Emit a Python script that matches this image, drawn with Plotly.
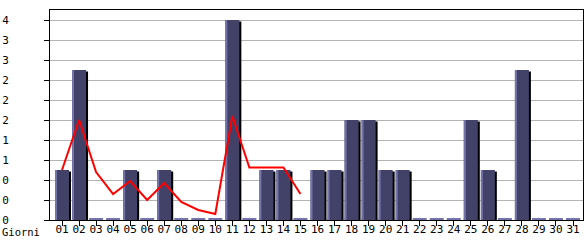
import plotly.graph_objects as go

days = [f"{d:02d}" for d in range(1, 32)]
visits = [1, 3, 0, 0, 1, 0, 1, 0, 0, 0, 4, 0, 1, 1, 0, 1, 1, 2, 2, 1, 1, 0, 0, 0, 2, 1, 0, 3, 0, 0, 0]
trend = [1.0, 2.0, 0.96, 0.52, 0.78, 0.4, 0.74, 0.36, 0.2, 0.12, 2.08, 1.05, 1.05, 1.05, 0.52]
ytick_vals = [0, 0.4, 0.8, 1.2, 1.6, 2.0, 2.4, 2.8, 3.2, 3.6, 4.0]
ytick_text = ["0", "0", "0", "1", "1", "2", "2", "2", "3", "3", "4"]
x_label = "Giorni"

FILL = "#424268"
HIGHLIGHT = "#7474ac"
SHADOW = "#000000"
PX = 1 / 17.033  # one pixel in x data units

xs = list(range(len(days)))
n = len(days)

fig = go.Figure()

# zero-value base marker
fig.add_trace(go.Bar(x=xs, y=[0.035] * n, width=[14 * PX] * n, offset=[-7 * PX] * n,
                     marker=dict(color=HIGHLIGHT, line=dict(width=0)), hoverinfo="skip"))
# shadow
fig.add_trace(go.Bar(x=xs, y=[max(v - 0.03, 0) for v in visits], width=[14 * PX] * n, offset=[-5 * PX] * n,
                     marker=dict(color=SHADOW, line=dict(width=0)), hoverinfo="skip"))
# main fill
fig.add_trace(go.Bar(x=xs, y=visits, width=[14 * PX] * n, offset=[-7 * PX] * n,
                     marker=dict(color=FILL, line=dict(width=0))))
# left highlight
fig.add_trace(go.Bar(x=xs, y=visits, width=[2 * PX] * n, offset=[-7 * PX] * n,
                     marker=dict(color=HIGHLIGHT, line=dict(width=0)), hoverinfo="skip"))
# trend line
fig.add_trace(go.Scatter(x=xs[:len(trend)], y=trend, mode="lines",
                         line=dict(color="#ff0000", width=2)))

fig.update_layout(
    width=585, height=240,
    margin=dict(l=50, r=2, t=10, b=20),
    paper_bgcolor="white", plot_bgcolor="white",
    barmode="overlay", showlegend=False,
    font=dict(family="DejaVu Sans Mono", size=11, color="black"),
    xaxis=dict(range=[-0.705, 30.587], tickvals=xs, ticktext=days, automargin=False,
               showline=True, linecolor="black", linewidth=1, mirror=True,
               ticks="outside", ticklen=5, tickcolor="black", showgrid=False,
               zeroline=False, ticklabelstandoff=-6, tickfont=dict(size=11)),
    yaxis=dict(range=[0, 4.2], tickvals=ytick_vals, ticktext=ytick_text, automargin=False,
               showline=True, linecolor="black", linewidth=1, mirror=True,
               ticks="outside", ticklen=5, tickcolor="black",
               showgrid=True, gridcolor="#b4b4b4", gridwidth=1,
               zeroline=False, ticklabelstandoff=33, tickfont=dict(size=11)),
    annotations=[dict(text=x_label, xref="paper", yref="paper", x=-50 / 533, y=-20 / 210,
                      xanchor="left", yanchor="bottom", showarrow=False,
                      font=dict(family="DejaVu Sans Mono", size=10.5, color="black"))],
)

fig.write_html("out.html")
